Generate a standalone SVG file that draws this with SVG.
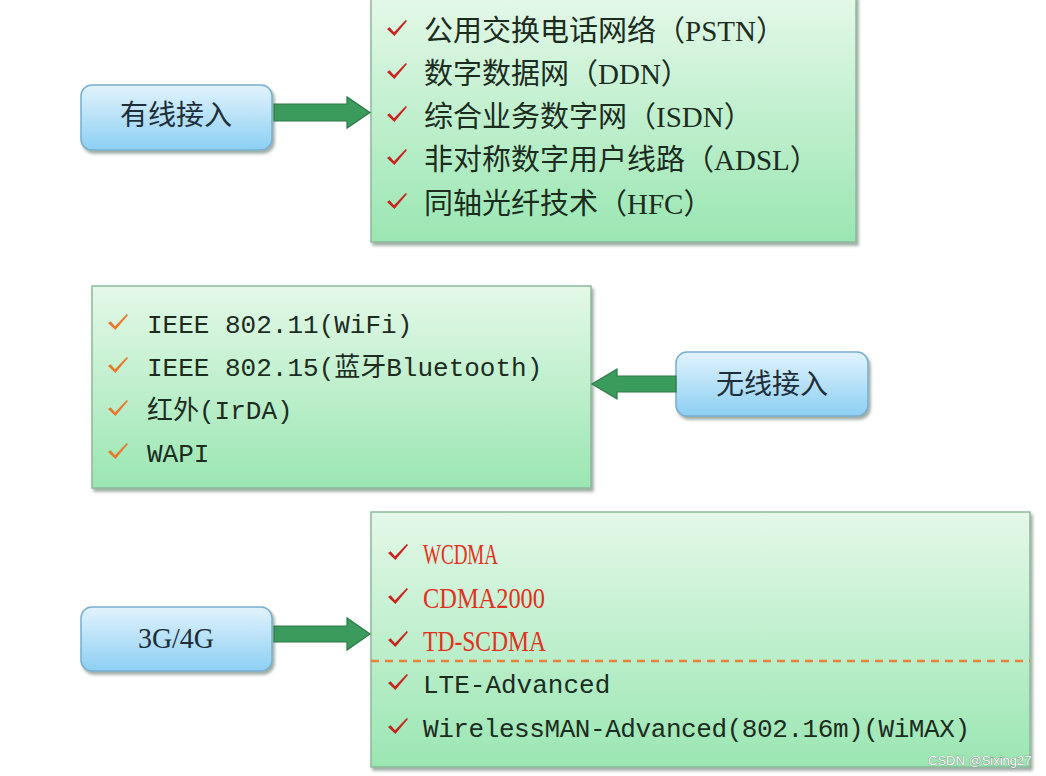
<svg xmlns="http://www.w3.org/2000/svg" xmlns:xlink="http://www.w3.org/1999/xlink" width="1046" height="776" viewBox="0 0 1046 776">
<defs>
<linearGradient id="gGreen" x1="0" y1="0" x2="0" y2="1">
<stop offset="0" stop-color="#e4f8e8"/>
<stop offset="1" stop-color="#9ae6b2"/>
</linearGradient>
<linearGradient id="gBlue" x1="0" y1="0" x2="0" y2="1">
<stop offset="0" stop-color="#e2f3fc"/>
<stop offset="1" stop-color="#8ccff3"/>
</linearGradient>
<filter id="shadow" x="-5%" y="-5%" width="110%" height="115%">
<feDropShadow dx="2" dy="3" stdDeviation="1.5" flood-color="#506a5a" flood-opacity="0.55"/>
</filter>
<path id="tick" d="M0,10 L2.6,8.2 L7,13.2 L18.8,1 L20,2 L7.4,17 Z"/>
<style>
.box{fill:url(#gGreen);stroke:#8db99b;stroke-width:1.5;filter:url(#shadow)}
.lbl{fill:url(#gBlue);stroke:#78aed0;stroke-width:1.5;filter:url(#shadow)}
.arrow{fill:#3a9b5c;stroke:#2c7a48;stroke-width:1.2}
.t1{font-family:"Liberation Serif","Noto Sans CJK SC",serif;font-size:29px;fill:#1c2c1f}
.t2{font-family:"Liberation Mono","Noto Sans CJK SC",monospace;font-size:26px;fill:#1c2c1f}
.red{font-family:"Liberation Serif","Noto Sans CJK SC",serif;font-size:30px;fill:#e0321e}
.lt{font-family:"Noto Sans CJK SC",sans-serif;font-size:28px;fill:#1e2e3a;text-anchor:middle}
.ls{font-family:"Liberation Serif",serif;font-size:29px;fill:#1e2e3a;text-anchor:middle}
.tr{fill:#c8241e}
.to{fill:#e8782a}
.wm{font-family:"Liberation Sans",sans-serif;font-size:13px;fill:#ffffff;stroke:#6f7f74;stroke-width:0.7;paint-order:stroke}
</style>
</defs>
<rect width="1046" height="776" fill="#ffffff"/>

<g id="wired-list">
<rect class="box" x="371" y="-4" width="485" height="246"/>
<use href="#tick" class="tr" x="387" y="19"/>
<use href="#tick" class="tr" x="387" y="62"/>
<use href="#tick" class="tr" x="387" y="105"/>
<use href="#tick" class="tr" x="387" y="148"/>
<use href="#tick" class="tr" x="387" y="192"/>
<text class="t1" x="424" y="41">公用交换电话网络（PSTN）</text>
<text class="t1" x="424" y="84">数字数据网（DDN）</text>
<text class="t1" x="424" y="127">综合业务数字网（ISDN）</text>
<text class="t1" x="424" y="170">非对称数字用户线路（ADSL）</text>
<text class="t1" x="424" y="214">同轴光纤技术（HFC）</text>
</g>

<g id="wired">
<rect class="lbl" x="81" y="85" width="191" height="65" rx="11"/>
<text class="lt" x="176" y="125">有线接入</text>
</g>

<g id="wireless-list">
<rect class="box" x="92" y="286" width="499" height="202"/>
<use href="#tick" class="to" x="108" y="313"/>
<use href="#tick" class="to" x="108" y="356"/>
<use href="#tick" class="to" x="108" y="399"/>
<use href="#tick" class="to" x="108" y="442"/>
<text class="t2" x="147" y="333">IEEE 802.11(WiFi)</text>
<text class="t2" x="147" y="376">IEEE 802.15(蓝牙Bluetooth)</text>
<text class="t2" x="147" y="419">红外(IrDA)</text>
<text class="t2" x="147" y="462">WAPI</text>
</g>

<g id="wireless">
<rect class="lbl" x="676" y="352" width="192" height="64" rx="11"/>
<text class="lt" x="772" y="394">无线接入</text>
</g>

<g id="mobile-list">
<rect class="box" x="371" y="512" width="659" height="255"/>
<use href="#tick" class="tr" x="388" y="543"/>
<use href="#tick" class="tr" x="388" y="587"/>
<use href="#tick" class="tr" x="388" y="630"/>
<use href="#tick" class="tr" x="388" y="673"/>
<use href="#tick" class="tr" x="388" y="717"/>
<text class="red" x="423" y="564" textLength="75" lengthAdjust="spacingAndGlyphs">WCDMA</text>
<text class="red" x="423" y="608" textLength="122" lengthAdjust="spacingAndGlyphs">CDMA2000</text>
<text class="red" x="423" y="651" textLength="123" lengthAdjust="spacingAndGlyphs">TD-SCDMA</text>
<line x1="371" y1="661" x2="1030" y2="661" stroke="#e6803a" stroke-width="2.5" stroke-dasharray="8 6"/>
<text class="t2" x="423" y="693">LTE-Advanced</text>
<text class="t2" x="423" y="737" textLength="547">WirelessMAN-Advanced(802.16m)(WiMAX)</text>
</g>

<g id="mobile">
<rect class="lbl" x="81" y="607" width="191" height="64" rx="11"/>
<text class="ls" x="176" y="648" textLength="76" lengthAdjust="spacingAndGlyphs">3G/4G</text>
</g>

<g id="connectors">
<path class="arrow" d="M274,104 L347,104 L347,97 L370,112.5 L347,128 L347,121 L274,121 Z"/>
<path class="arrow" d="M676,376 L617,376 L617,369 L592,384 L617,399 L617,392 L676,392 Z"/>
<path class="arrow" d="M274,626 L347,626 L347,618 L370,634 L347,650 L347,642 L274,642 Z"/>
</g>

<text class="wm" x="928" y="765">CSDN @Sixing27</text>
</svg>
